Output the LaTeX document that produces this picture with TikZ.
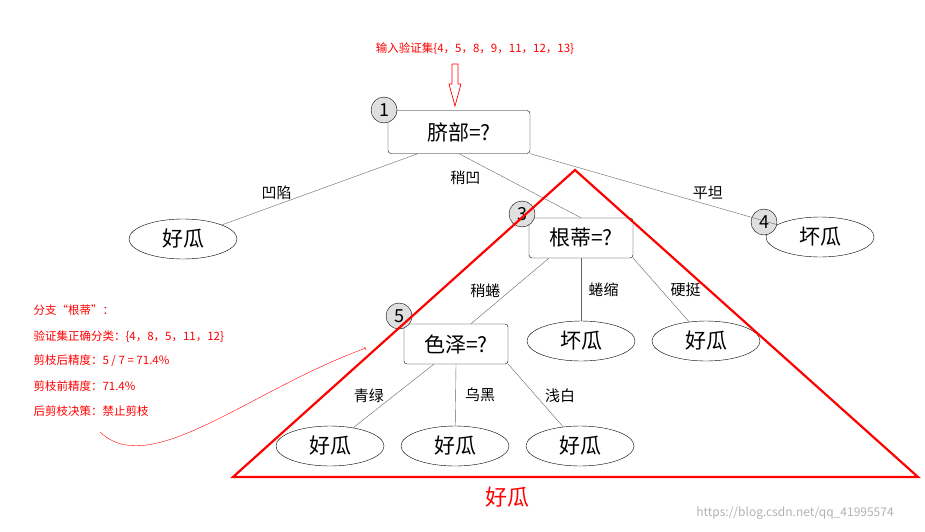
\documentclass[tikz,border=0pt]{standalone}
\usepackage{fontspec}
\setmainfont{Noto Sans CJK SC}
\usetikzlibrary{shapes, arrows, positioning}
\tikzstyle{box}  = [draw, rounded corners=3pt, minimum width=104pt, minimum height=40pt, font=\fontsize{21}{21}\selectfont]
\tikzstyle{leaf} = [draw, ellipse, minimum width=108pt, minimum height=40pt, font=\fontsize{21}{21}\selectfont]
\tikzstyle{num}  = [draw, circle, fill=gray!25, minimum size=26pt, inner sep=0pt, font=\fontsize{18}{18}\selectfont]
\tikzstyle{lab}  = [text=black, font=\fontsize{15}{15}\selectfont]
\tikzstyle{note} = [text=red, font=\fontsize{11.5}{11.5}\selectfont, anchor=west]
\tikzstyle{edge} = [draw, gray!80!black]

\begin{document}
\begin{tikzpicture}[x=1pt, y=-1pt]
\useasboundingbox (0,0) rectangle (925,532);

% nodes
\node [box, minimum width=142pt, minimum height=43pt] at (459,132) (R)  {脐部=?};
\node [num]  at (384,110) (n1) {1};
\node [leaf] at (183,239) (L1) {好瓜};
\node [box]  at (581,238) (G)  {根蒂=?};
\node [num]  at (522,214) (n3) {3};
\node [leaf] at (820,237) (L4) {坏瓜};
\node [num]  at (764,222) (n4) {4};
\node [box]  at (456,344) (C)  {色泽=?};
\node [num]  at (399,316) (n5) {5};
\node [leaf] at (581,341) (L6) {坏瓜};
\node [leaf] at (706,341) (L7) {好瓜};
\node [leaf] at (330,446) (L8) {好瓜};
\node [leaf] at (455,446) (L9) {好瓜};
\node [leaf] at (580,446) (L10) {好瓜};

% edges
\coordinate (r1) at ([xshift=30pt]R.south west);
\coordinate (g1) at ([xshift=20pt]G.south west);
\coordinate (c1) at ([xshift=30pt]C.south west);
\coordinate (c2) at ([xshift=15pt]C.north);
\path [edge]
  (r1) edge node [lab, above=2pt, pos=0.72] {凹陷} (L1)
  (R.south) edge node [lab, below left=0pt and 2pt, pos=0.22] {稍凹} (G.north)
  (R.south east) edge node [lab, above=2pt, pos=0.72] {平坦} (L4)
  (g1) edge node [lab, left=6pt, pos=0.5] {稍蜷} (c2)
  (G.south) edge node [lab, right=4pt] {蜷缩} (L6)
  (G.south east) edge node [lab, right=6pt, pos=0.5] {硬挺} (L7)
  (c1) edge node [lab, left=6pt, pos=0.5] {青绿} (L8)
  (C.south) edge node [lab, right=6pt] {乌黑} (L9)
  (C.south east) edge node [lab, right=6pt, pos=0.5] {浅白} (L10);

% pruning triangle
\coordinate (t1) at (575,170);
\coordinate (t2) at (233,477);
\coordinate (t3) at (918,477);
\draw [red, line width=2.2pt] (t1) -- (t2) -- (t3) -- cycle;
\node [text=red, font=\fontsize{22}{22}\selectfont] at (507,497) (res) {好瓜};

% notes
\node [note, anchor=center] at (475,49) (inp) {输入验证集\{4，5，8，9，11，12，13\}};
\draw [red, line width=0.7pt] (452,64) -- (458,64) -- (458,84) -- (461,84) -- (455,106) -- (449,84) -- (452,84) -- cycle;
\node [note] at (30,310) (a1) {分支“根蒂”：};
\node [note] at (30,337) (a2) {验证集正确分类：\{4，8，5，11，12\}};
\node [note] at (30,361) (a3) {剪枝后精度：5 / 7 = 71.4\%};
\node [note] at (30,386) (a4) {剪枝前精度：71.4\%};
\node [note] at (30,411) (a5) {后剪枝决策：禁止剪枝};
\coordinate (cs) at (100,432);
\coordinate (ce) at (366,348);
\draw [red, -to] (cs) .. controls (150,480) and (250,390) .. (ce);

\node [gray!60, font=\fontsize{12}{12}\selectfont] at (795,513) (wm) {https://blog.csdn.net/qq\_41995574};
\end{tikzpicture}
\end{document}
